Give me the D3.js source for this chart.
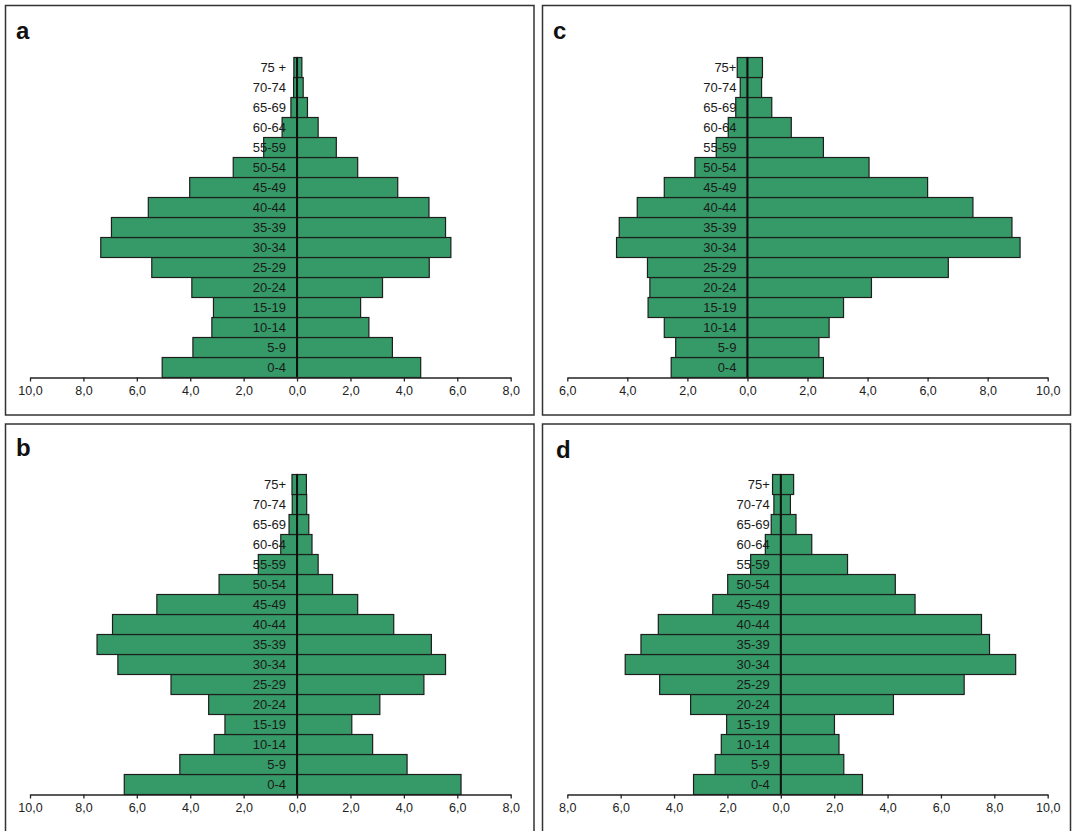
<!DOCTYPE html>
<html>
<head>
<meta charset="utf-8">
<script src="https://cdn.jsdelivr.net/npm/d3@7"></script>
<style>
  html, body { margin: 0; padding: 0; background: #fff; }
  svg { display: block; }
  text { font-family: "Liberation Sans", Arial, Helvetica, sans-serif; }
</style>
</head>
<body>
<svg id="chart" width="1073" height="831"></svg>
<script>
// ---- Data (bottom to top: 0-4 ... 75+) ----
const ageGroups = ["0-4","5-9","10-14","15-19","20-24","25-29","30-34","35-39","40-44","45-49","50-54","55-59","60-64","65-69","70-74","75+"];
const ageLabelsA = ["0-4","5-9","10-14","15-19","20-24","25-29","30-34","35-39","40-44","45-49","50-54","55-59","60-64","65-69","70-74","75 +"];

const aLeft  = [5.05, 3.90, 3.19, 3.13, 3.94, 5.44, 7.35, 6.95, 5.57, 4.02, 2.39, 1.25, 0.56, 0.23, 0.13, 0.12];
const aRight = [4.63, 3.57, 2.69, 2.38, 3.20, 4.95, 5.76, 5.56, 4.94, 3.77, 2.27, 1.47, 0.79, 0.39, 0.23, 0.18];

const bLeft  = [6.47, 4.39, 3.10, 2.70, 3.31, 4.72, 6.71, 7.49, 6.91, 5.25, 2.92, 1.45, 0.61, 0.30, 0.18, 0.19];
const bRight = [6.14, 4.12, 2.83, 2.05, 3.10, 4.75, 5.56, 5.03, 3.62, 2.27, 1.33, 0.79, 0.56, 0.44, 0.36, 0.35];

const cLeft  = [2.54, 2.39, 2.77, 3.31, 3.25, 3.33, 4.36, 4.27, 3.67, 2.77, 1.75, 1.04, 0.64, 0.39, 0.24, 0.34];
const cRight = [2.53, 2.38, 2.72, 3.20, 4.13, 6.69, 9.08, 8.81, 7.51, 6.00, 4.05, 2.53, 1.46, 0.81, 0.47, 0.50];

const dLeft  = [3.27, 2.46, 2.23, 2.03, 3.38, 4.54, 5.83, 5.24, 4.59, 2.55, 1.99, 1.13, 0.58, 0.36, 0.26, 0.31];
const dRight = [3.06, 2.36, 2.18, 2.01, 4.22, 6.87, 8.80, 7.82, 7.52, 5.03, 4.29, 2.50, 1.16, 0.57, 0.36, 0.48];

const ticksAB = [-10, -8, -6, -4, -2, 0, 2, 4, 6, 8];
const ticksC  = [-6, -4, -2, 0, 2, 4, 6, 8, 10];
const ticksD  = [-8, -6, -4, -2, 0, 2, 4, 6, 8, 10];

// ---- Panels layout ----
const panels = [
  { letter: "a", left: aLeft, right: aRight, labels: ageLabelsA, ticks: ticksAB, domain: [-10, 8],
    frame: [5.5, 5.5, 528.5, 409.5], letterPos: [16, 39], xRange: [30, 510.7], axisY: 377.5 },
  { letter: "c", left: cLeft, right: cRight, labels: ageGroups, ticks: ticksC, domain: [-6, 10],
    frame: [542.5, 5.5, 528, 409.5], letterPos: [553, 38.5], xRange: [567.3, 1047.7], axisY: 377.5 },
  { letter: "b", left: bLeft, right: bRight, labels: ageGroups, ticks: ticksAB, domain: [-10, 8],
    frame: [5.5, 424, 528.5, 420], letterPos: [16, 456], xRange: [30, 510.7], axisY: 794.5 },
  { letter: "d", left: dLeft, right: dRight, labels: ageGroups, ticks: ticksD, domain: [-8, 10],
    frame: [542.5, 424, 528, 420], letterPos: [556, 458], xRange: [567.3, 1047.7], axisY: 794.5 }
];

const FILL = "#359a67";
const STROKE = "#1e1e1e";
const svg = d3.select("#chart");

panels.forEach(p => {
  const g = svg.append("g");

  g.append("rect")
    .attr("x", p.frame[0]).attr("y", p.frame[1])
    .attr("width", p.frame[2]).attr("height", p.frame[3])
    .attr("fill", "none").attr("stroke", "#333").attr("stroke-width", 1.5);

  g.append("text")
    .attr("x", p.letterPos[0]).attr("y", p.letterPos[1])
    .attr("font-size", 24).attr("font-weight", "bold").attr("fill", "#111")
    .text(p.letter);

  const x = d3.scaleLinear().domain(p.domain).range(p.xRange);
  const y = d3.scaleBand().domain(ageGroups).range([p.axisY, p.axisY - 320]).padding(0);
  const x0 = x(0);

  const rows = ageGroups.map((a, i) => ({ age: a, l: p.left[i], r: p.right[i], label: p.labels[i] }));

  // left bars
  g.selectAll(".lb").data(rows).join("rect")
    .attr("x", d => x(-d.l)).attr("y", d => y(d.age))
    .attr("width", d => x0 - x(-d.l)).attr("height", y.bandwidth())
    .attr("fill", FILL).attr("stroke", STROKE).attr("stroke-width", 1.2);
  // right bars
  g.selectAll(".rb").data(rows).join("rect")
    .attr("x", x0).attr("y", d => y(d.age))
    .attr("width", d => x(d.r) - x0).attr("height", y.bandwidth())
    .attr("fill", FILL).attr("stroke", STROKE).attr("stroke-width", 1.2);

  // age labels
  g.selectAll(".al").data(rows).join("text")
    .attr("x", x0 - 11).attr("y", d => y(d.age) + y.bandwidth() / 2)
    .attr("dy", "0.36em").attr("text-anchor", "end")
    .attr("font-size", 13).attr("fill", "#1a1a1a")
    .text(d => d.label);

  // center line
  g.append("line")
    .attr("x1", x0).attr("x2", x0)
    .attr("y1", p.axisY - 320).attr("y2", p.axisY)
    .attr("stroke", "#111").attr("stroke-width", 2);

  // axis
  const axis = d3.axisBottom(x)
    .tickValues(p.ticks).tickSize(4).tickSizeOuter(0).tickPadding(5)
    .tickFormat(d => Math.abs(d).toFixed(1).replace(".", ","));
  const ag = g.append("g").attr("transform", `translate(0,${p.axisY})`).call(axis);
  ag.select(".domain").attr("stroke", "#222").attr("stroke-width", 1.3);
  ag.selectAll(".tick line").attr("stroke", "#222").attr("stroke-width", 1.3);
  ag.selectAll(".tick text").attr("font-size", 12.5).attr("fill", "#222")
    .attr("font-family", "'Liberation Sans', Arial, sans-serif");
});
</script>
</body>
</html>
